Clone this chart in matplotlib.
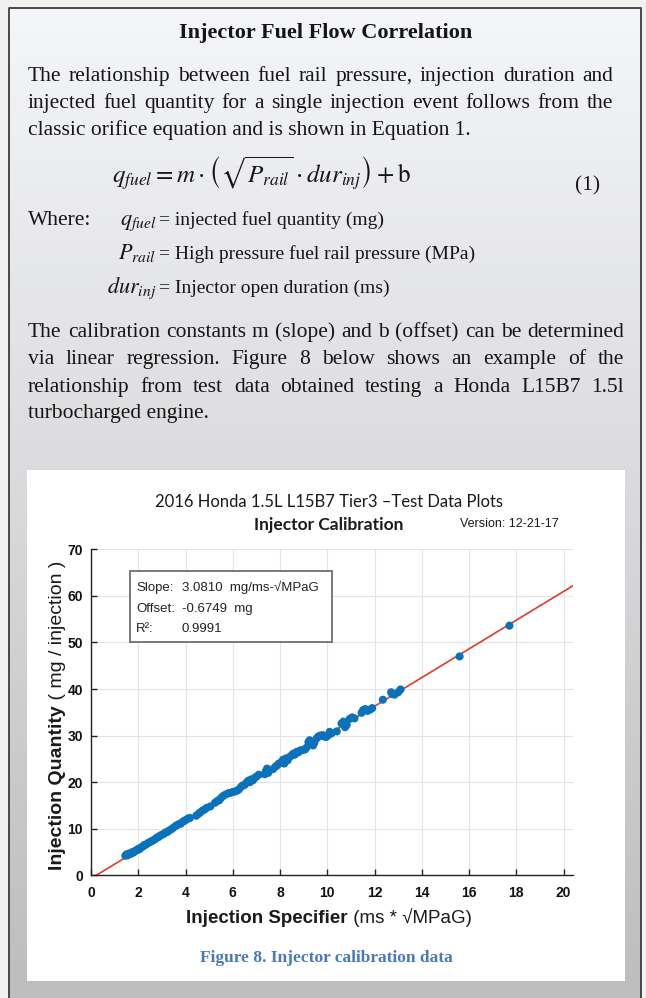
import numpy as np
import matplotlib.pyplot as plt
from matplotlib.patches import Rectangle

W, H, DPI = 646, 998, 100

# ---- chart data ----
spec = [1.45, 1.50, 1.55, 1.62, 1.68, 1.75, 1.80, 1.88, 1.95, 2.00, 2.05, 2.12, 2.20,
        2.25, 2.32, 2.40, 2.48, 2.55, 2.62, 2.70, 2.78, 2.85, 2.92, 3.00, 3.08, 3.15,
        3.22, 3.30, 3.40, 3.48, 3.58, 3.65, 3.72, 3.80, 3.88, 3.95, 4.02, 4.10, 4.18,
        4.45, 4.55, 4.62, 4.72, 4.80, 4.90, 5.05, 5.25, 5.35, 5.42, 5.50, 5.58, 5.68,
        5.80, 5.90, 6.00, 6.10, 6.18, 6.25, 6.35, 6.42, 6.50, 6.58, 6.65, 6.72, 6.78,
        6.85, 6.92, 7.00, 7.10, 7.35, 7.40, 7.45, 7.50, 7.70, 7.80, 7.88, 7.95, 8.05,
        8.12, 8.18, 8.25, 8.32, 8.40, 8.48, 8.55, 8.62, 8.70, 8.78, 8.85, 8.95, 9.05,
        9.12, 9.20, 9.25, 9.30, 9.40, 9.45, 9.55, 9.62, 9.70, 9.80, 9.88, 9.95, 10.05,
        10.10, 10.18, 10.40, 10.60, 10.68, 10.75, 10.82, 10.95, 11.05, 11.15, 11.45,
        11.52, 11.60, 11.70, 11.82, 11.90, 12.35, 12.70, 12.75, 12.85, 13.00, 13.10,
        15.60, 17.71]
qty = [4.2, 4.5, 4.3, 4.7, 4.6, 5.0, 4.9, 5.3, 5.4, 5.7, 5.6, 6.0, 6.2,
       6.5, 6.6, 6.9, 7.1, 7.3, 7.5, 7.7, 8.1, 8.2, 8.5, 8.7, 8.9, 9.2,
       9.3, 9.6, 9.9, 10.2, 10.6, 10.8, 11.0, 11.1, 11.5, 11.7, 11.9, 12.2, 12.3,
       12.8, 13.2, 13.5, 13.9, 14.1, 14.5, 14.8, 15.6, 16.0, 16.1, 16.6, 17.0, 17.3,
       17.6, 17.7, 17.9, 18.0, 18.2, 18.4, 19.0, 19.3, 19.4, 19.9, 20.3, 20.0, 20.6,
       20.4, 20.9, 21.2, 21.6, 21.7, 22.4, 22.9, 22.0, 22.8, 23.3, 23.6, 24.0, 24.2,
       24.8, 24.0, 25.1, 24.7, 25.4, 25.7, 26.1, 25.9, 26.5, 26.4, 26.8, 26.9, 27.0,
       27.4, 28.6, 29.0, 28.2, 27.9, 28.5, 29.4, 29.8, 30.0, 30.1, 29.8, 29.7, 30.1,
       30.8, 30.5, 30.9, 32.6, 33.0, 31.8, 32.3, 33.6, 33.9, 33.7, 34.9,
       35.5, 35.7, 35.3, 35.6, 35.9, 37.7, 39.3, 38.9, 38.8, 39.3, 39.9,
       47.0, 53.6]
slope = 3.0810
offset = -0.6749
r_squared = 0.9991
x_ticks = list(range(0, 21, 2))
y_ticks = list(range(0, 71, 10))

# ---- page text ----
heading = "Injector Fuel Flow Correlation"
para1 = ["The relationship between fuel rail pressure, injection duration and",
         "injected fuel quantity for a single injection event follows from the",
         "classic orifice equation and is shown in Equation 1."]
para2 = ["The calibration constants m (slope) and b (offset) can be determined",
         "via linear regression. Figure 8 below shows an example of the",
         "relationship from test data obtained testing a Honda L15B7 1.5l",
         "turbocharged engine."]
equation = r"$q_{fuel} = m \cdot \left(\sqrt{P_{rail}} \cdot dur_{inj}\right) + \mathrm{b}$"
where_syms = [r"$q_{fuel}$", r"$P_{rail}$", r"$dur_{inj}$"]
where_text = ["= injected fuel quantity (mg)",
              "= High pressure fuel rail pressure (MPa)",
              "= Injector open duration (ms)"]
caption = "Figure 8. Injector calibration data"

SERIF = ["Liberation Serif", "DejaVu Serif"]
SANS = ["Liberation Sans", "DejaVu Sans"]
NARROW = ["Liberation Sans Narrow", "Liberation Sans", "DejaVu Sans"]
CAL = ["Lato", "DejaVu Sans"]
INK = "#151515"

fig = plt.figure(figsize=(W / DPI, H / DPI), dpi=DPI, facecolor="#f1f1f1")
bg = fig.add_axes([0, 0, 1, 1], zorder=0)
bg.axis("off")

# gradient page box
top = np.array([245, 246, 250]) / 255
bot = np.array([189, 189, 189]) / 255
t = np.linspace(0, 1, 256)[:, None, None]
grad = top * (1 - t) + bot * t
bg.imshow(grad, extent=(9, 641, 998, 8), aspect="auto", interpolation="bilinear", zorder=0)
bg.plot([9, 9, 641, 641], [998, 8, 8, 998], color="#3c3c3c", lw=1.3, zorder=1)
bg.add_patch(Rectangle((27, 470), 598, 511, facecolor="white", edgecolor="none", zorder=1))
bg.set_xlim(0, W)
bg.set_ylim(H, 0)

renderer = fig.canvas.get_renderer()


def put_line(line, x0, x1, y, justify, **kw):
    if not justify:
        bg.text(x0, y, line, va="baseline", **kw)
        return
    words = line.split()
    objs = [bg.text(x0, y, w, va="baseline", **kw) for w in words]
    widths = [o.get_window_extent(renderer).width for o in objs]
    gap = (x1 - x0 - sum(widths)) / (len(words) - 1)
    x = x0
    for o, w in zip(objs, widths):
        o.set_x(x)
        x += w + gap


body = dict(family=SERIF, fontsize=15.5, color=INK)
small = dict(family=SERIF, fontsize=14, color=INK)
bg.text(326, 38, heading, ha="center", va="baseline", family=SERIF,
        fontsize=16, fontweight="bold", color=INK)
for i, (line, y) in enumerate(zip(para1, [81, 108, 135])):
    put_line(line, 28, 613, y, i < len(para1) - 1, **body)
for i, (line, y) in enumerate(zip(para2, [337, 364, 392, 418])):
    put_line(line, 28, 624, y, i < len(para2) - 1, **body)

bg.text(112, 184, equation, va="baseline", fontsize=18, math_fontfamily="stix", color=INK)
bg.text(600, 190, "(1)", ha="right", va="baseline", **body)
bg.text(28, 225, "Where:", va="baseline", **body)
for sym, txt, y in zip(where_syms, where_text, [225, 259, 293]):
    bg.text(156, y, sym, ha="right", va="baseline", fontsize=16,
            math_fontfamily="stix", color=INK)
    bg.text(159, y, txt, va="baseline", **small)

# ---- chart ----
ax = fig.add_axes([91.1 / W, 1 - 875.3 / H, (573 - 91.1) / W, (875.3 - 549.3) / H], zorder=2)
ax.set_facecolor("white")
xs = np.array([0, 20.4])
ax.plot(xs, slope * xs + offset, color="#e23b2a", lw=1.2, zorder=2)
ax.scatter(spec, qty, s=34, color="#0a72bb", edgecolors="none", zorder=3)
ax.set_xlim(0, 20.4)
ax.set_ylim(0, 70)
ax.set_xticks(x_ticks)
ax.set_yticks(y_ticks)
ax.grid(True, color="#e4e4e4", lw=0.8)
ax.set_axisbelow(True)
for s in ["top", "right"]:
    ax.spines[s].set_visible(False)
for s in ["left", "bottom"]:
    ax.spines[s].set_color("#222222")
    ax.spines[s].set_linewidth(1.0)
ax.tick_params(direction="in", length=4, width=1, color="#222222")
ax.tick_params(axis="x", pad=8)
ax.tick_params(axis="y", pad=6)
for lab in ax.get_xticklabels() + ax.get_yticklabels():
    lab.set_family(NARROW)
    lab.set_fontweight("bold")
    lab.set_fontsize(10)
    lab.set_color("#111111")

# stats box, placed in page pixels
ax.add_patch(Rectangle((130, 571), 202, 71, transform=bg.transData, facecolor="white",
                       edgecolor="#6e6e6e", lw=1.3, zorder=5))
box_rows = [("Slope:", f"{slope:.4f}  mg/ms-\u221aMPaG"),
            ("Offset:", f"{offset:.4f}  mg"),
            ("R\u00b2:", f"{r_squared:.4f}")]
for (k, v), y in zip(box_rows, [591, 612, 632]):
    ax.text(136, y, k, transform=bg.transData, va="baseline", family=SANS,
            fontsize=9.5, color="#222222", zorder=6)
    ax.text(182, y, v, transform=bg.transData, va="baseline", family=SANS,
            fontsize=9.5, color="#222222", zorder=6)

# chart titles
bg.text(329, 507, "2016 Honda 1.5L L15B7 Tier3 \u2013Test Data Plots", ha="center",
        va="baseline", family=CAL, fontsize=12, color="#1a1a1a", zorder=3)
bg.text(329, 530, "Injector Calibration", ha="center", va="baseline", family=CAL,
        fontsize=12.5, fontweight="bold", color="#1a1a1a", zorder=3)
bg.text(460, 527, "Version: 12-21-17", va="baseline", family=NARROW,
        fontsize=9, color="#1a1a1a", zorder=3)

# axis labels: bold lead + regular rest
xl = bg.text(186, 923, "Injection Specifier", va="baseline", family=SANS,
             fontsize=13.5, fontweight="bold", color="#1a1a1a", zorder=3)
xw = xl.get_window_extent(renderer).width
bg.text(186 + xw, 923, " (ms * \u221aMPaG)", va="baseline", family=SANS,
        fontsize=13.5, color="#1a1a1a", zorder=3)

yl = bg.text(61.5, 870, "Injection Quantity", rotation=90, rotation_mode="anchor",
             ha="left", va="baseline", family=SANS, fontsize=14, fontweight="bold",
             color="#1a1a1a", zorder=3)
yh = yl.get_window_extent(renderer).height
bg.text(61.5, 870 - yh, " ( mg / injection )", rotation=90, rotation_mode="anchor",
        ha="left", va="baseline", family=SANS, fontsize=14, color="#1a1a1a", zorder=3)

bg.text(326, 962, caption, ha="center", va="baseline", family=SERIF, fontsize=12.5,
        fontweight="bold", color="#4a78b8", zorder=3)

fig.savefig("out.png", dpi=DPI, facecolor=fig.get_facecolor())
